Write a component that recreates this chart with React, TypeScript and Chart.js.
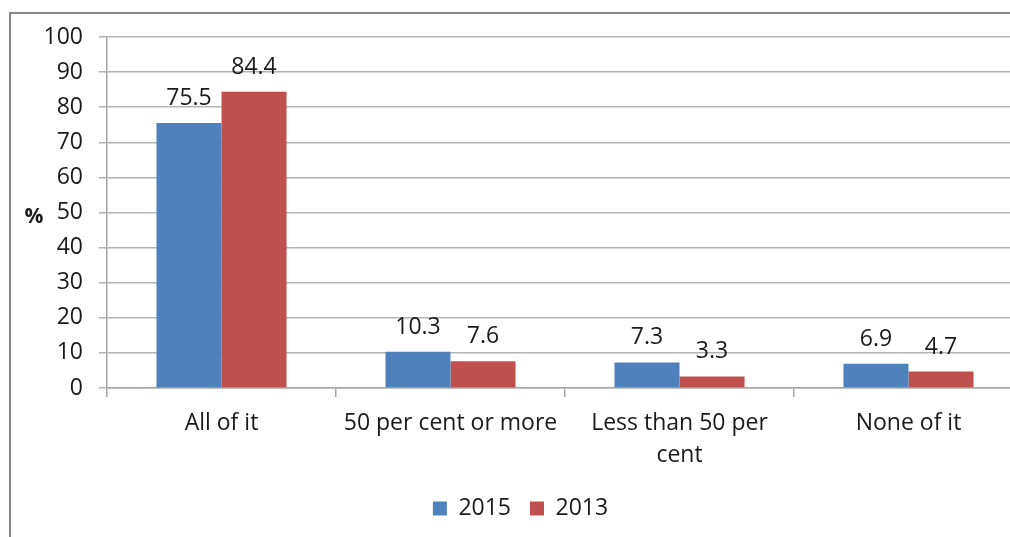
import React, { useEffect, useRef } from "react";
import { Chart, registerables } from "chart.js";

Chart.register(...registerables);

const categories: (string | string[])[] = ["All of it", "50 per cent or more", ["Less than 50 per", "cent"], "None of it"];
const values2015 = [75.5, 10.3, 7.3, 6.9];
const values2013 = [84.4, 7.6, 3.3, 4.7];
const seriesNames = ["2015", "2013"];
const yTicks = [0, 10, 20, 30, 40, 50, 60, 70, 80, 90, 100];
const yAxisLabel = "%";

const FONT = "'Open Sans', Lato, sans-serif";
const FS = 23;

const labelPlugin = {
  id: "barLabels",
  afterDatasetsDraw(chart: any) {
    const ctx = chart.ctx;
    ctx.save();
    ctx.font = `${FS}px ${FONT}`;
    ctx.fillStyle = "#1a1a1a";
    ctx.textAlign = "center";
    ctx.textBaseline = "alphabetic";
    chart.data.datasets.forEach((ds: any, i: number) => {
      const meta = chart.getDatasetMeta(i);
      meta.data.forEach((bar: any, j: number) => {
        ctx.fillText(String(ds.data[j]), bar.x, bar.y - 18);
      });
    });
    // horizontal y-axis title
    ctx.font = `bold 21px ${FONT}`;
    ctx.textBaseline = "middle";
    ctx.fillText(yAxisLabel, 34, (chart.chartArea.top + chart.chartArea.bottom) / 2 + 5);
    ctx.restore();
  },
};

export default function App() {
  const ref = useRef<HTMLCanvasElement | null>(null);
  useEffect(() => {
    if (!ref.current) return;
    const chart = new Chart(ref.current, {
      type: "bar",
      data: {
        labels: categories,
        datasets: [
          { label: seriesNames[0], data: values2015, backgroundColor: "#4f81bd", borderWidth: 0 },
          { label: seriesNames[1], data: values2013, backgroundColor: "#c0504d", borderWidth: 0 },
        ],
      },
      options: {
        responsive: false,
        animation: false,
        devicePixelRatio: 1,
        layout: { padding: { top: 37, right: 0, bottom: 7, left: 18 } },
        datasets: { bar: { barPercentage: 1, categoryPercentage: 0.568 } },
        plugins: {
          legend: {
            position: "bottom",
            labels: {
              boxWidth: 14,
              boxHeight: 14,
              padding: 19,
              color: "#1a1a1a",
              font: { family: FONT, size: FS },
            },
          },
          tooltip: { enabled: false },
        },
        scales: {
          x: {
            grid: { display: true, drawOnChartArea: false, offset: true, color: "#a6a6a6", lineWidth: 1.5, tickLength: 9 },
            border: { color: "#a6a6a6", width: 1.5 },
            ticks: { color: "#1a1a1a", font: { family: FONT, size: FS, lineHeight: 1.4 }, padding: 10, maxRotation: 0, autoSkip: false },
            afterFit: (s: any) => { s.height = 90; },
          },
          y: {
            min: 0,
            max: 100,
            afterBuildTicks: (s: any) => { s.ticks = yTicks.map((v) => ({ value: v })); },
            grid: { color: "#b3b3b3", lineWidth: 1.5, tickLength: 8 },
            border: { color: "#a6a6a6", width: 1.5 },
            ticks: { color: "#1a1a1a", font: { family: FONT, size: FS }, padding: 16 },
            afterFit: (s: any) => { s.width = 89; },
          },
        },
      },
      plugins: [labelPlugin],
    });
    return () => chart.destroy();
  }, []);

  return (
    <div style={{ position: "fixed", left: 0, top: 0, width: 1010, height: 537, overflow: "hidden", background: "#fff" }}>
      <div style={{ position: "absolute", left: 9, top: 12, width: 1100, height: 700, borderLeft: "2px solid #878787", borderTop: "2px solid #878787" }} />
      <canvas ref={ref} width={1023} height={537} style={{ position: "absolute", left: 0, top: 0, width: 1023, height: 537 }} />
    </div>
  );
}
